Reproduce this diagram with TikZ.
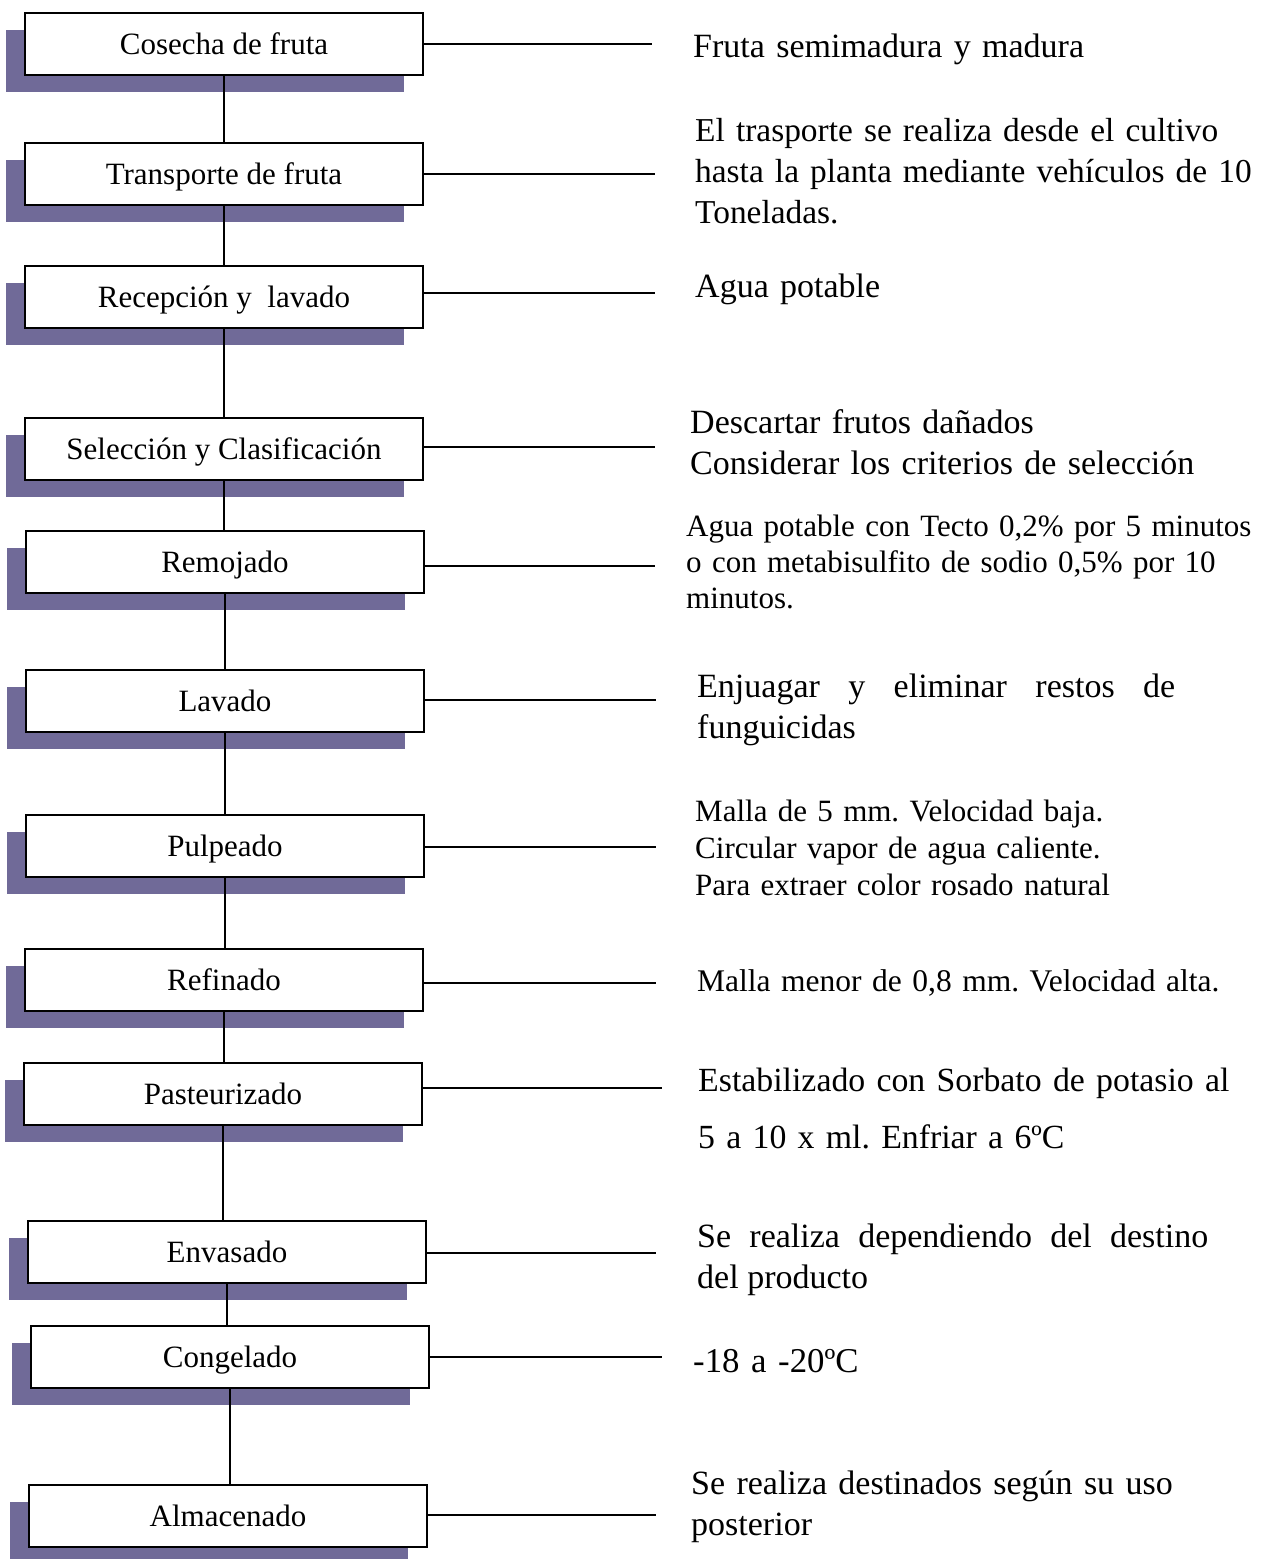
\documentclass[tikz,border=0pt]{standalone}
\usepackage{fontspec}
\setmainfont{Liberation Serif}
\usetikzlibrary{shadows}
\definecolor{shadowcol}{RGB}{112,106,152}
\frenchspacing
\begin{document}
\begin{tikzpicture}[x=1pt,y=-1pt,
  stepbox/.style={draw=black, line width=2pt, fill=white, minimum width=398pt, minimum height=62pt,
    inner sep=0pt, font=\fontsize{31}{36}\selectfont, text height=24pt, text depth=4pt,
    general shadow={fill=shadowcol, shadow xshift=-19pt, shadow yshift=-17pt}},
  link/.style={line width=1.6pt},
  note/.style={anchor=base west, inner sep=0pt, text width=600pt, align=left,
    font=\fontsize{34}{41}\selectfont},
  notej/.style={note, align=justify}]
\useasboundingbox (0,0) rectangle (1265,1559);

% steps
\node[stepbox] (b1)  at (224,44)   {Cosecha de fruta};
\node[stepbox] (b2)  at (224,174)  {Transporte de fruta};
\node[stepbox] (b3)  at (224,297)  {Recepción y \ lavado};
\node[stepbox] (b4)  at (224,449)  {Selección y Clasificación};
\node[stepbox] (b5)  at (225,562)  {Remojado};
\node[stepbox] (b6)  at (225,701)  {Lavado};
\node[stepbox] (b7)  at (225,846)  {Pulpeado};
\node[stepbox] (b8)  at (224,980)  {Refinado};
\node[stepbox] (b9)  at (223,1094) {Pasteurizado};
\node[stepbox] (b10) at (227,1252) {Envasado};
\node[stepbox] (b11) at (230,1357) {Congelado};
\node[stepbox] (b12) at (228,1516) {Almacenado};

% vertical flow
\foreach \a/\b in {b1/b2,b2/b3,b3/b4,b4/b5,b5/b6,b6/b7,b7/b8,b8/b9,b9/b10,b10/b11,b11/b12}
  \draw[link] (\a.south) -- (\a.south |- \b.north);

% free ends of side connectors
\coordinate (e1)  at (652,44);
\coordinate (e2)  at (655,174);
\coordinate (e3)  at (655,293);
\coordinate (e4)  at (655,447);
\coordinate (e5)  at (655,566);
\coordinate (e6)  at (656,700);
\coordinate (e7)  at (656,847);
\coordinate (e8)  at (656,983);
\coordinate (e9)  at (662,1088);
\coordinate (e10) at (656,1253);
\coordinate (e11) at (662,1357);
\coordinate (e12) at (656,1515);
\foreach \i in {1,...,12}
  \draw[link] (b\i.east |- e\i) -- (e\i);

% notes
\node[note] (n1) at (693,57) {Fruta semimadura y madura};
\node[note, font=\fontsize{33.4}{41}\selectfont] (n2) at (695,141) {El trasporte se realiza desde el cultivo\\hasta la planta mediante vehículos de 10\\Toneladas.};
\node[note] (n3) at (695,297) {Agua potable};
\node[note] (n4) at (690,433) {Descartar frutos dañados\\Considerar los criterios de selección};
\node[note, font=\fontsize{31}{36}\selectfont] (n5) at (686,536) {Agua potable con Tecto 0,2\% por 5 minutos\\o con metabisulfito de sodio 0,5\% por 10\\minutos.};
\node[notej, text width=478pt] (n6) at (697,697) {Enjuagar y eliminar restos de\linebreak funguicidas};
\node[note, font=\fontsize{31}{37}\selectfont] (n7) at (695,821) {Malla de 5 mm. Velocidad baja.\\Circular vapor de agua caliente.\\Para extraer color rosado natural};
\node[note, font=\fontsize{31.5}{37}\selectfont] (n8) at (697,991) {Malla menor de 0,8 mm. Velocidad alta.};
\node[note, font=\fontsize{33.8}{57}\selectfont] (n9) at (698,1091) {Estabilizado con Sorbato de potasio al\\5 a 10 x ml. Enfriar a 6ºC};
\node[notej, text width=511pt] (n10) at (697,1247) {Se realiza dependiendo del destino\linebreak del producto};
\node[note, font=\fontsize{34.8}{41}\selectfont] (n11) at (693,1372) {-18 a -20ºC};
\node[note] (n12) at (691,1494) {Se realiza destinados según su uso\\posterior};
\end{tikzpicture}
\end{document}
